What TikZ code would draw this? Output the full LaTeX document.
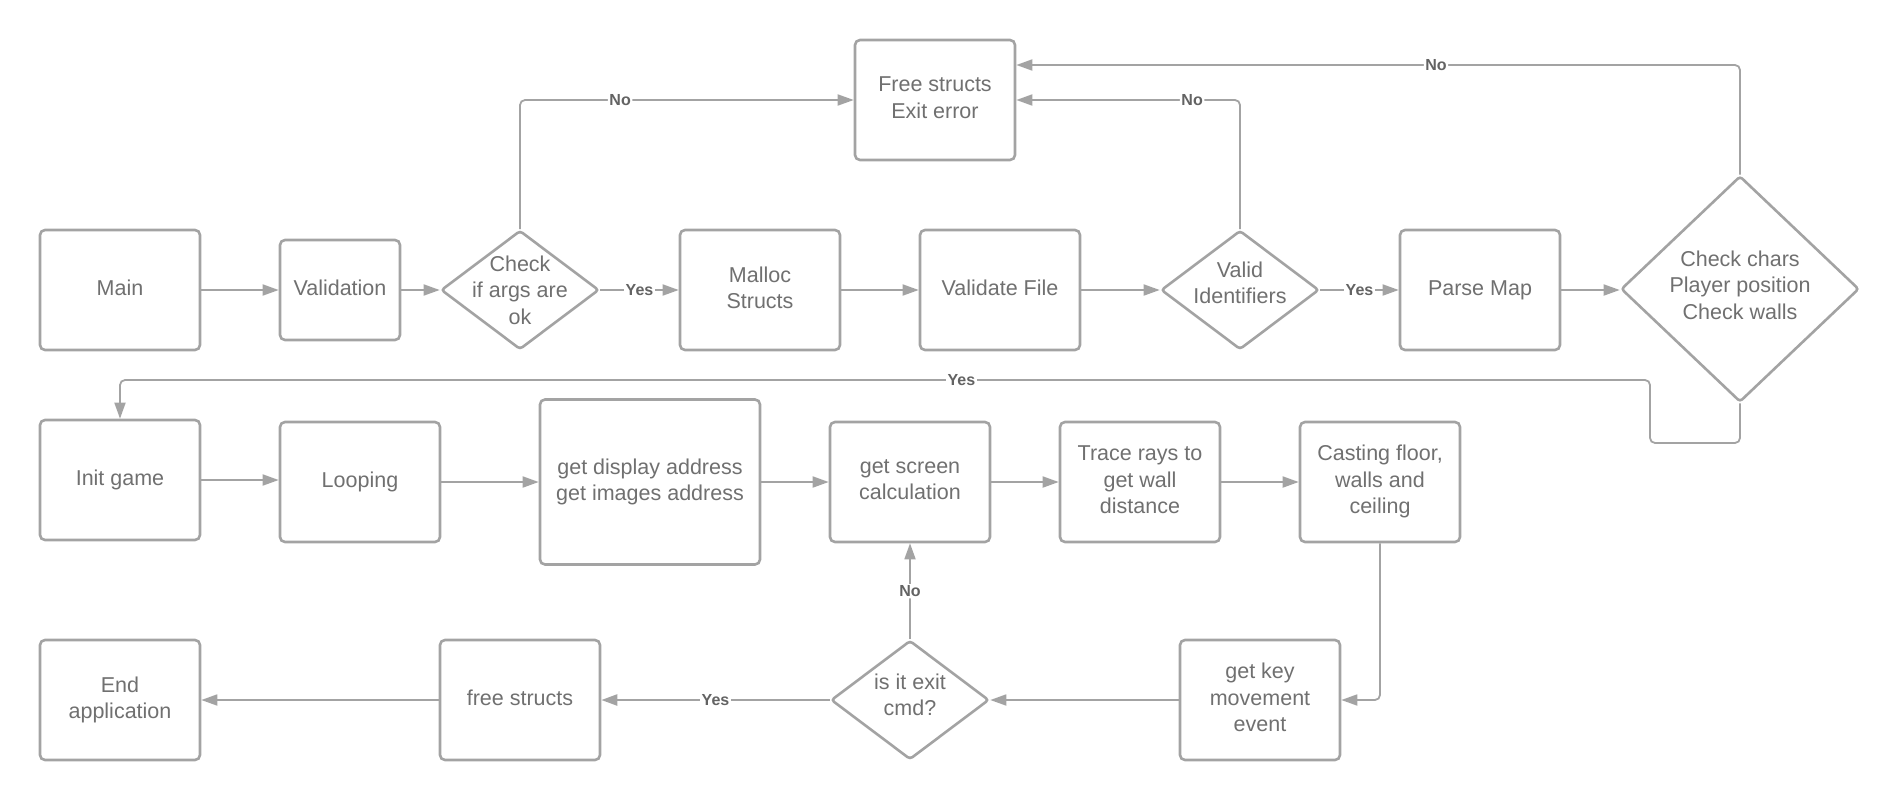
\documentclass[tikz,border=0pt]{standalone}
\usepackage{fontspec}
\setmainfont{Liberation Sans}
\usetikzlibrary{arrows.meta,shapes.geometric}
\definecolor{strk}{HTML}{A3A3A3}
\definecolor{txtc}{HTML}{707070}
\definecolor{lblc}{HTML}{636363}
\newcommand\boxfont{\fontsize{21.5}{26.5}\selectfont}
\newcommand\lblfont{\fontsize{16}{18}\selectfont\bfseries}
\begin{document}
\begin{tikzpicture}[x=1pt,y=-1pt,
  box/.style={draw=strk, line width=2.6pt, rounded corners=5pt, fill=white,
    inner sep=0pt, align=center, text=txtc, font=\boxfont, text depth=4.6pt,
    minimum width=160pt, minimum height=120pt},
  dia/.style={draw=strk, line width=2.6pt, shape=diamond, rounded corners=3pt,
    fill=white, inner sep=0pt, minimum width=158pt, minimum height=119pt},
  dtxt/.style={align=center, text=txtc, font=\boxfont, inner sep=0pt},
  conn/.style={draw=strk, line width=1.8pt, rounded corners=5pt,
    -{Triangle[length=16pt,width=11pt]}},
  lbl/.style={fill=white, text=lblc, font=\lblfont, inner sep=1.5pt}]
\useasboundingbox (0,0) rectangle (1900,800);

% row 1
\node[box] (main) at (120,290) {Main};
\node[box, minimum width=120pt, minimum height=100pt] (val) at (340,290) {Validation};
\node[dia] (chk) at (520,290) {};
\node[dtxt] (chkt) at (chk) {Check\\if args are\\ok};
\node[box] (mal) at (760,290) {Malloc\\Structs};
\node[box] (vf) at (1000,290) {Validate File};
\node[dia] (vid) at (1240,290) {};
\node[dtxt] (vidt) at ([yshift=7pt]vid) {Valid\\Identifiers};
\node[box] (pm) at (1480,290) {Parse Map};
\node[dia, minimum width=238pt, minimum height=226pt] (cc) at (1740,289) {};
\node[dtxt] (cct) at ([yshift=4pt]cc) {Check chars\\Player position\\Check walls};
\node[box] (fse) at (935,100) {Free structs\\Exit error};

% row 2
\node[box] (ini) at (120,480) {Init game};
\node[box] (loop) at (360,482) {Looping};
\node[box, minimum width=220pt, minimum height=165pt] (gda) at (650,482) {get display address\\get images address};
\node[box] (gsc) at (910,482) {get screen\\calculation};
\node[box] (tr) at (1140,482) {Trace rays to\\get wall\\distance};
\node[box] (cf) at (1380,482) {Casting floor,\\walls and\\ceiling};

% row 3
\node[box] (end) at (120,700) {End\\application};
\node[box] (fs) at (520,700) {free structs};
\node[dia] (isx) at (910,700) {};
\node[dtxt] (isxt) at ([yshift=5pt]isx) {is it exit\\cmd?};
\node[box] (gk) at (1260,700) {get key\\movement\\event};

% connectors row 1
\draw[conn] (main.east) -- (val.west);
\draw[conn] (val.east) -- (chk.west);
\draw[conn] (chk.east) -- node[lbl]{Yes} (mal.west);
\draw[conn] (mal.east) -- (vf.west);
\draw[conn] (vf.east) -- (vid.west);
\draw[conn] (vid.east) -- node[lbl]{Yes} (pm.west);
\draw[conn] (pm.east) -- (pm.east -| cc.west);
\draw[conn] (chk.north) |- node[lbl,pos=0.65]{No} (fse.west);
\draw[conn] (vid.north) |- node[lbl,pos=0.607]{No} (fse.east);
\draw[conn] (cc.north) |- node[lbl,pos=0.71]{No} ([yshift=35pt]fse.east);

% yes loop
\coordinate (l1) at (1650,443);
\coordinate (l2) at (1650,380);
\draw[conn] (cc.south) |- (l1) -- (l2) -| node[lbl,pos=0.225]{Yes} (ini.north);

% row 2
\draw[conn] (ini.east) -- (ini.east -| loop.west);
\draw[conn] (loop.east) -- (gda.west);
\draw[conn] (gda.east) -- (gsc.west);
\draw[conn] (gsc.east) -- (tr.west);
\draw[conn] (tr.east) -- (cf.west);
\draw[conn] (cf.south) |- (gk.east);

% row 3
\draw[conn] (gk.west) -- (isx.east);
\draw[conn, line width=2.4pt] (isx.west) -- node[lbl]{Yes} (fs.east);
\draw[conn] (fs.west) -- (end.east);
\draw[conn] (isx.north) -- node[lbl]{No} (gsc.south);
\end{tikzpicture}
\end{document}
